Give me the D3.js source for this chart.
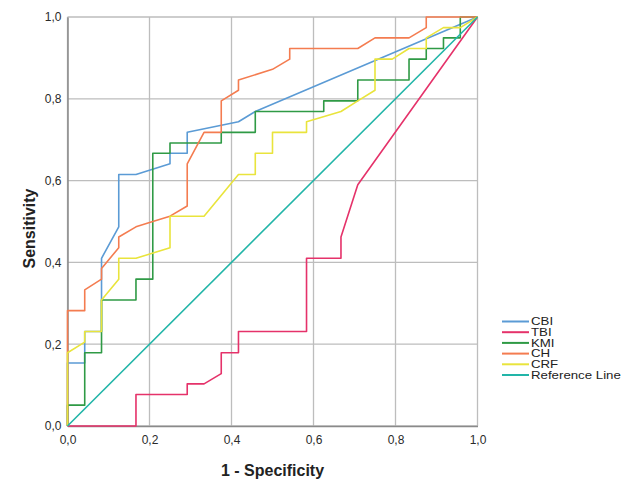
<!DOCTYPE html>
<html>
<head>
<meta charset="utf-8">
<script src="https://cdn.jsdelivr.net/npm/d3@7/dist/d3.min.js"></script>
<style>
  html, body { margin: 0; padding: 0; background: #fff; }
  svg { display: block; font-family: Arial, "Liberation Sans", sans-serif; }
</style>
</head>
<body>
<svg id="chart" width="635" height="481"></svg>
<script>
// ---- data (1 - specificity, sensitivity) ----
const tickValues = [0, 0.2, 0.4, 0.6, 0.8, 1.0];
const tickLabels = ["0,0", "0,2", "0,4", "0,6", "0,8", "1,0"];

const seriesNames = ["CBI", "TBI", "KMI", "CH", "CRF", "Reference Line"];

const cbiX = [0, 0, 0.042, 0.042, 0.083, 0.083, 0.125, 0.125, 0.167, 0.25, 0.25, 0.292, 0.292, 0.417, 0.458, 1];
const cbiY = [0, 0.154, 0.154, 0.231, 0.231, 0.41, 0.487, 0.615, 0.615, 0.641, 0.667, 0.667, 0.718, 0.744, 0.769, 1];

const tbiX = [0, 0.167, 0.167, 0.292, 0.292, 0.333, 0.375, 0.375, 0.417, 0.417, 0.583, 0.583, 0.667, 0.667, 0.708, 1];
const tbiY = [0, 0, 0.077, 0.077, 0.103, 0.103, 0.128, 0.179, 0.179, 0.231, 0.231, 0.41, 0.41, 0.462, 0.59, 1];

const kmiX = [0, 0, 0.042, 0.042, 0.083, 0.083, 0.167, 0.167, 0.208, 0.208, 0.25, 0.25, 0.375, 0.375, 0.458, 0.458, 0.625, 0.625, 0.708, 0.708, 0.833, 0.833, 0.875, 0.875, 0.917, 0.917, 0.958, 0.958, 1];
const kmiY = [0, 0.051, 0.051, 0.179, 0.179, 0.308, 0.308, 0.359, 0.359, 0.667, 0.667, 0.692, 0.692, 0.718, 0.718, 0.769, 0.769, 0.795, 0.795, 0.846, 0.846, 0.897, 0.897, 0.923, 0.923, 0.949, 0.949, 1, 1];

const chX = [0, 0, 0.042, 0.042, 0.083, 0.083, 0.125, 0.125, 0.167, 0.208, 0.25, 0.292, 0.292, 0.333, 0.375, 0.375, 0.417, 0.417, 0.5, 0.542, 0.542, 0.708, 0.75, 0.833, 0.875, 0.875, 1];
const chY = [0, 0.282, 0.282, 0.333, 0.359, 0.385, 0.436, 0.462, 0.487, 0.5, 0.513, 0.538, 0.641, 0.718, 0.718, 0.795, 0.821, 0.846, 0.872, 0.897, 0.923, 0.923, 0.949, 0.949, 0.974, 1, 1];

const crfX = [0, 0, 0.042, 0.042, 0.083, 0.083, 0.125, 0.125, 0.167, 0.25, 0.25, 0.333, 0.417, 0.458, 0.458, 0.5, 0.5, 0.583, 0.583, 0.667, 0.708, 0.75, 0.75, 0.792, 0.833, 0.875, 0.875, 0.917, 0.958, 1];
const crfY = [0, 0.179, 0.205, 0.231, 0.231, 0.308, 0.359, 0.41, 0.41, 0.436, 0.513, 0.513, 0.615, 0.615, 0.667, 0.667, 0.718, 0.718, 0.744, 0.769, 0.795, 0.821, 0.897, 0.897, 0.923, 0.923, 0.949, 0.974, 0.974, 1];

const refX = [0, 1];
const refY = [0, 1];

const colors = ["#5b9bd5", "#e5326a", "#2f9a45", "#f47c50", "#e9e43c", "#22b5a8"];

// ---- layout ----
const margin = { left: 67.5, top: 17, width: 410, height: 409 };
const svg = d3.select("#chart");
const x = d3.scaleLinear().domain([0, 1]).range([margin.left, margin.left + margin.width]);
const y = d3.scaleLinear().domain([0, 1]).range([margin.top + margin.height, margin.top]);

// gridlines
const grid = svg.append("g");
grid.selectAll("line.v").data(tickValues).enter().append("line")
  .attr("x1", d => x(d)).attr("x2", d => x(d))
  .attr("y1", y(0)).attr("y2", y(1))
  .attr("stroke", "#bdbdbd").attr("stroke-width", 1.3);
grid.selectAll("line.h").data(tickValues).enter().append("line")
  .attr("y1", d => y(d)).attr("y2", d => y(d))
  .attr("x1", x(0)).attr("x2", x(1))
  .attr("stroke", "#bdbdbd").attr("stroke-width", 1.3);

// axes
const xAxis = d3.axisBottom(x).tickValues(tickValues).tickFormat((d, i) => tickLabels[i]).tickSize(0).tickPadding(9);
const yAxis = d3.axisLeft(y).tickValues(tickValues).tickFormat((d, i) => tickLabels[i]).tickSize(0).tickPadding(6);
const gx = svg.append("g").attr("transform", `translate(0,${y(0)})`).call(xAxis);
const gy = svg.append("g").attr("transform", `translate(${x(0)},0)`).call(yAxis);
[gx, gy].forEach(g => {
  g.select(".domain").attr("stroke", "#8a8a8a").attr("stroke-width", 1.5);
  g.selectAll("text").attr("font-size", 12).attr("fill", "#2a2a2a").attr("font-family", "Arial, 'Liberation Sans', sans-serif");
});

// curves
const lineGen = d3.line().x(d => x(d[0])).y(d => y(d[1]));
const seriesData = [
  d3.zip(cbiX, cbiY),
  d3.zip(tbiX, tbiY),
  d3.zip(kmiX, kmiY),
  d3.zip(chX, chY),
  d3.zip(crfX, crfY),
  d3.zip(refX, refY)
];
svg.append("g").selectAll("path").data(seriesData).enter().append("path")
  .attr("d", d => lineGen(d))
  .attr("fill", "none")
  .attr("stroke", (d, i) => colors[i])
  .attr("stroke-width", 1.6)
  .attr("stroke-linejoin", "round");

// axis titles
svg.append("text")
  .attr("x", x(0.5)).attr("y", 472)
  .attr("text-anchor", "middle").attr("dominant-baseline", "middle")
  .attr("font-size", 16).attr("font-weight", "bold").attr("fill", "#222")
  .text("1 - Specificity");
svg.append("text")
  .attr("transform", `translate(31,${y(0.5) + 7}) rotate(-90)`)
  .attr("text-anchor", "middle").attr("dominant-baseline", "middle")
  .attr("font-size", 16).attr("font-weight", "bold").attr("fill", "#222")
  .text("Sensitivity");

// legend
const legend = svg.append("g");
const legY0 = 321.5, legStep = 10.7;
seriesNames.forEach((name, i) => {
  const ly = legY0 + i * legStep;
  legend.append("line")
    .attr("x1", 502).attr("x2", 529)
    .attr("y1", ly).attr("y2", ly)
    .attr("stroke", colors[i]).attr("stroke-width", 2);
  legend.append("text")
    .attr("transform", `translate(531,${ly + 3.6}) scale(1.3,1)`)
    .attr("font-size", 10.2).attr("fill", "#222")
    .text(name);
});
</script>
</body>
</html>
